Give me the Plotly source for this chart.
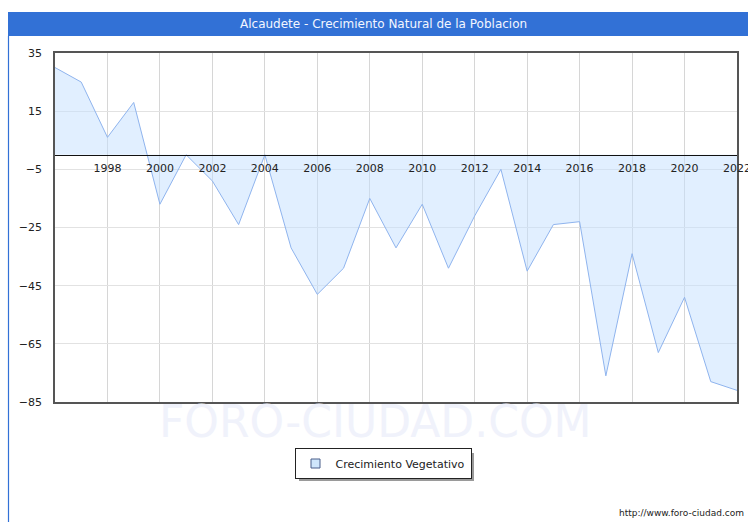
import plotly.graph_objects as go

# ---- data ----
years = list(range(1996, 2023))
crecimiento = [30, 25, 6, 18, -17, 0, -9, -24, 0, -32, -48, -39, -15, -32, -17,
               -39, -21, -5, -40, -24, -23, -76, -34, -68, -49, -78, -81]
x_ticks = list(range(1998, 2023, 2))
y_ticks = [35, 15, -5, -25, -45, -65, -85]
title_text = "Alcaudete - Crecimiento Natural de la Poblacion"
series_name = "Crecimiento Vegetativo"

W, H = 748, 522
L, R, T, B = 55, 11, 53, 120
pw, ph = W - L - R, H - T - B
y_min, y_max = -85, 35


def px_x(p):
    return (p - L) / pw


def px_y(p):
    return (H - B - p) / ph


FONT = "DejaVu Sans"
BLUE = "#3271d6"

fig = go.Figure()
fig.add_trace(go.Scatter(
    x=years, y=crecimiento, mode="lines", fill="tozeroy",
    line=dict(color="#8fb4ee", width=1),
    fillcolor="rgba(196,224,255,0.5)",
    showlegend=False, hoverinfo="x+y",
))
# legend entry (square swatch)
fig.add_trace(go.Scatter(
    x=[None], y=[None], mode="markers", name=series_name,
    marker=dict(symbol="square", size=9, color="#cfe6fb",
                line=dict(color="#4a5f8a", width=1)),
    showlegend=True,
))
# invisible trace to activate the second x-axis (labels on zero line)
fig.add_trace(go.Scatter(x=years, y=crecimiento, mode="lines", xaxis="x2",
                         line=dict(width=0, color="rgba(0,0,0,0)"),
                         showlegend=False, hoverinfo="skip"))

zero_pos = (0 - y_min) / (y_max - y_min)

fig.update_layout(
    width=W, height=H, autosize=False,
    margin=dict(l=L, r=R, t=T, b=B, pad=0, autoexpand=False),
    paper_bgcolor="white", plot_bgcolor="white",
    font=dict(family=FONT, size=11, color="#222"),
    xaxis=dict(range=[1996, 2022], tickvals=x_ticks, showticklabels=False,
               showgrid=True, gridcolor="#d6d6d6", gridwidth=1,
               showline=True, linecolor="#555", linewidth=1.5, mirror=True,
               zeroline=False, ticks="", automargin=False),
    xaxis2=dict(range=[1996, 2022], overlaying="x", anchor="free",
                position=zero_pos, side="bottom", tickvals=x_ticks,
                ticktext=[str(v) for v in x_ticks],
                showgrid=False, showline=True, linecolor="#111", linewidth=1,
                zeroline=False, ticks="", layer="above traces",
                ticklabeloverflow="allow", automargin=False,
                tickfont=dict(family=FONT, size=11, color="#222"),
                ticklabelstandoff=3),
    yaxis=dict(range=[y_min, y_max], tickvals=y_ticks,
               showgrid=True, gridcolor="#e2e2e2", gridwidth=1,
               showline=True, linecolor="#555", linewidth=1.5, mirror=True,
               zeroline=False, ticks="", ticklabelstandoff=9, automargin=False,
               tickfont=dict(family=FONT, size=11, color="#222")),
    legend=dict(x=px_x(383), xanchor="center", y=px_y(448), yanchor="top",
                bgcolor="white", bordercolor="#222", borderwidth=1,
                font=dict(family=FONT, size=11, color="#222"),
                itemwidth=30),
    shapes=[
        # title bar
        dict(type="rect", xref="paper", yref="paper",
             x0=px_x(8), x1=px_x(760), y0=px_y(36), y1=px_y(12),
             fillcolor=BLUE, line=dict(width=0), layer="below"),
        # left frame border
        dict(type="line", xref="paper", yref="paper",
             x0=px_x(8.5), x1=px_x(8.5), y0=px_y(36), y1=px_y(522),
             line=dict(color=BLUE, width=1.2)),
        # legend shadow
        dict(type="rect", xref="paper", yref="paper",
             x0=px_x(299), x1=px_x(474), y0=px_y(481), y1=px_y(453),
             fillcolor="#9a9a9a", line=dict(width=0), layer="below"),
    ],
    annotations=[
        dict(text=title_text, xref="paper", yref="paper",
             x=px_x(383), y=px_y(24), xanchor="center", yanchor="middle",
             showarrow=False, font=dict(family=FONT, size=12, color="#f2f6ff")),
        dict(text="FORO-CIUDAD.COM", xref="paper", yref="paper",
             x=px_x(375), y=px_y(421), xanchor="center", yanchor="middle",
             showarrow=False, font=dict(family=FONT, size=44, color="#f0f2fb")),
        dict(text="http://www.foro-ciudad.com", xref="paper", yref="paper",
             x=px_x(746), y=px_y(513), xanchor="right", yanchor="middle",
             showarrow=False, font=dict(family=FONT, size=9, color="#222")),
    ],
)

fig.write_html("out.html",
               config={"responsive": False, "displayModeBar": False},
               post_script="document.body.style.margin='0';"
                           "document.body.style.overflow='hidden';")
